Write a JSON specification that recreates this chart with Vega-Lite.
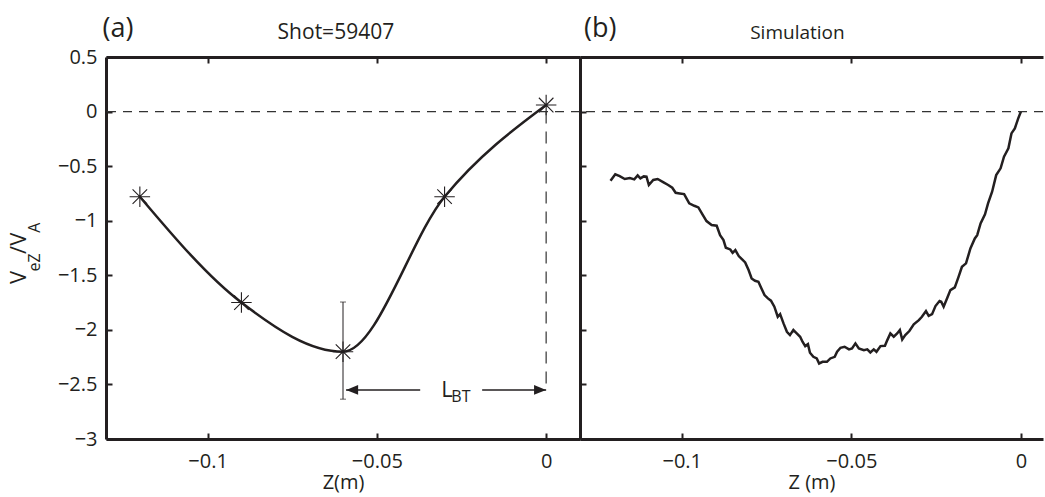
{
  "$schema": "https://vega.github.io/schema/vega-lite/v6.json",
  "background": "white",
  "padding": {"left": 8, "top": 15, "right": 0, "bottom": 4},
  "bounds": "flush",
  "spacing": 0,
  "config": {
    "font": "Open Sans",
    "view": {"stroke": null},
    "axis": {
      "grid": false,
      "domainColor": "#231f20",
      "domainWidth": 3,
      "tickColor": "#231f20",
      "tickWidth": 2,
      "tickSize": -6,
      "labelFont": "Open Sans",
      "labelFontSize": 20,
      "labelColor": "#231f20",
      "labelFlush": false,
      "titleFont": "Open Sans",
      "titleFontSize": 20,
      "titleFontWeight": "normal",
      "titleColor": "#231f20"
    }
  },
  "datasets": {
    "one": [{}],
    "stars": [
      {"z": -0.12, "v": -0.78},
      {"z": -0.09, "v": -1.75},
      {"z": -0.06, "v": -2.2},
      {"z": -0.03, "v": -0.78},
      {"z": 0.0, "v": 0.06}
    ],
    "errcaps": [{"v": -1.745}, {"v": -2.635}],
    "arrows": [{"z": -0.0591, "z2": -0.0372}, {"z": -0.0189, "z2": 0.0}],
    "heads": [{"z": -0.0573, "dir": "left"}, {"z": -0.0018, "dir": "right"}],
    "ybig": [{"t": "V", "v": -1.52}, {"t": "/", "v": -1.267}, {"t": "V", "v": -1.17}],
    "ysmall": [{"t": "eZ", "v": -1.382}, {"t": "A", "v": -1.064}],
    "sim": [
      {"z": -0.1210, "v": -0.634}, {"z": -0.1196, "v": -0.575}, {"z": -0.1183, "v": -0.591},
      {"z": -0.1168, "v": -0.618}, {"z": -0.1153, "v": -0.609}, {"z": -0.1140, "v": -0.621},
      {"z": -0.1130, "v": -0.585}, {"z": -0.1122, "v": -0.612}, {"z": -0.1112, "v": -0.594},
      {"z": -0.1104, "v": -0.597}, {"z": -0.1097, "v": -0.673}, {"z": -0.1084, "v": -0.627},
      {"z": -0.1071, "v": -0.618}, {"z": -0.1055, "v": -0.646}, {"z": -0.1040, "v": -0.673},
      {"z": -0.1028, "v": -0.698}, {"z": -0.1018, "v": -0.744}, {"z": -0.1006, "v": -0.750},
      {"z": -0.0993, "v": -0.756}, {"z": -0.0978, "v": -0.841}, {"z": -0.0963, "v": -0.863},
      {"z": -0.0951, "v": -0.878}, {"z": -0.0939, "v": -0.942}, {"z": -0.0927, "v": -1.003},
      {"z": -0.0912, "v": -1.040}, {"z": -0.0897, "v": -1.046}, {"z": -0.0887, "v": -1.132},
      {"z": -0.0877, "v": -1.177}, {"z": -0.0870, "v": -1.248}, {"z": -0.0857, "v": -1.263},
      {"z": -0.0850, "v": -1.294}, {"z": -0.0842, "v": -1.269}, {"z": -0.0832, "v": -1.324},
      {"z": -0.0822, "v": -1.355}, {"z": -0.0813, "v": -1.382}, {"z": -0.0803, "v": -1.452},
      {"z": -0.0794, "v": -1.529}, {"z": -0.0784, "v": -1.550}, {"z": -0.0774, "v": -1.559},
      {"z": -0.0766, "v": -1.614}, {"z": -0.0756, "v": -1.681}, {"z": -0.0746, "v": -1.712},
      {"z": -0.0737, "v": -1.733}, {"z": -0.0727, "v": -1.788}, {"z": -0.0717, "v": -1.880},
      {"z": -0.0710, "v": -1.856}, {"z": -0.0700, "v": -1.941}, {"z": -0.0690, "v": -2.018},
      {"z": -0.0681, "v": -2.048}, {"z": -0.0671, "v": -2.002}, {"z": -0.0661, "v": -2.033},
      {"z": -0.0651, "v": -2.063}, {"z": -0.0644, "v": -2.109}, {"z": -0.0636, "v": -2.149},
      {"z": -0.0628, "v": -2.131}, {"z": -0.0622, "v": -2.210}, {"z": -0.0612, "v": -2.247},
      {"z": -0.0602, "v": -2.262}, {"z": -0.0595, "v": -2.308}, {"z": -0.0585, "v": -2.293},
      {"z": -0.0572, "v": -2.293}, {"z": -0.0562, "v": -2.262}, {"z": -0.0549, "v": -2.247},
      {"z": -0.0542, "v": -2.201}, {"z": -0.0532, "v": -2.164}, {"z": -0.0520, "v": -2.155},
      {"z": -0.0507, "v": -2.179}, {"z": -0.0498, "v": -2.170}, {"z": -0.0488, "v": -2.124},
      {"z": -0.0478, "v": -2.170}, {"z": -0.0463, "v": -2.186}, {"z": -0.0453, "v": -2.179},
      {"z": -0.0444, "v": -2.207}, {"z": -0.0434, "v": -2.179}, {"z": -0.0426, "v": -2.201},
      {"z": -0.0414, "v": -2.149}, {"z": -0.0401, "v": -2.146}, {"z": -0.0394, "v": -2.094},
      {"z": -0.0385, "v": -2.033}, {"z": -0.0375, "v": -2.063}, {"z": -0.0365, "v": -2.033},
      {"z": -0.0357, "v": -2.002}, {"z": -0.0350, "v": -2.088}, {"z": -0.0341, "v": -2.048},
      {"z": -0.0329, "v": -2.011}, {"z": -0.0316, "v": -1.950}, {"z": -0.0301, "v": -1.911},
      {"z": -0.0292, "v": -1.880}, {"z": -0.0280, "v": -1.828}, {"z": -0.0272, "v": -1.871},
      {"z": -0.0262, "v": -1.856}, {"z": -0.0252, "v": -1.782}, {"z": -0.0240, "v": -1.736},
      {"z": -0.0235, "v": -1.743}, {"z": -0.0228, "v": -1.788}, {"z": -0.0218, "v": -1.712},
      {"z": -0.0208, "v": -1.636}, {"z": -0.0195, "v": -1.611}, {"z": -0.0184, "v": -1.514},
      {"z": -0.0174, "v": -1.422}, {"z": -0.0162, "v": -1.391}, {"z": -0.0149, "v": -1.254},
      {"z": -0.0136, "v": -1.162}, {"z": -0.0129, "v": -1.132}, {"z": -0.0119, "v": -1.025},
      {"z": -0.0106, "v": -0.942}, {"z": -0.0097, "v": -0.841}, {"z": -0.0085, "v": -0.734},
      {"z": -0.0073, "v": -0.582}, {"z": -0.0060, "v": -0.520}, {"z": -0.0050, "v": -0.413},
      {"z": -0.0037, "v": -0.337}, {"z": -0.0028, "v": -0.200}, {"z": -0.0018, "v": -0.154},
      {"z": -0.0008, "v": -0.062}, {"z": 0.0, "v": 0.0}
    ]
  },
  "hconcat": [
    {
      "width": 474,
      "height": 382,
      "resolve": {"axis": {"x": "independent", "y": "independent"}},
      "layer": [
        {
          "data": {"name": "stars"},
          "mark": {"type": "line", "interpolate": "monotone", "color": "#231f20", "strokeWidth": 2.5},
          "encoding": {
            "x": {"field": "z", "type": "quantitative",
                  "scale": {"domain": [-0.13, 0.01], "nice": false, "zero": false},
                  "axis": {"orient": "bottom", "values": [-0.1, -0.05, 0], "format": "~g", "title": "Z(m)", "labelPadding": 18, "titlePadding": 1}},
            "y": {"field": "v", "type": "quantitative",
                  "scale": {"domain": [-3, 0.5], "nice": false, "zero": false},
                  "axis": {"orient": "left", "values": [-3, -2.5, -2, -1.5, -1, -0.5, 0, 0.5], "format": "~g", "title": null, "labelPadding": 15}}
          }
        },
        {
          "data": {"name": "stars"},
          "mark": {"type": "point", "shape": "M-1,0L1,0M0,-1L0,1M-0.71,-0.71L0.71,0.71M-0.71,0.71L0.71,-0.71", "size": 420, "filled": false, "stroke": "#231f20", "strokeWidth": 1.1, "opacity": 1},
          "encoding": {
            "x": {"field": "z", "type": "quantitative",
                  "axis": {"orient": "top", "values": [-0.1, -0.05, 0], "labels": false, "title": null}},
            "y": {"field": "v", "type": "quantitative", "axis": null}
          }
        },
        {
          "data": {"name": "one"},
          "mark": {"type": "rule", "strokeDash": [9, 7], "strokeWidth": 1.2, "color": "#333333"},
          "encoding": {"y": {"datum": 0, "type": "quantitative", "axis": null}}
        },
        {
          "data": {"name": "one"},
          "mark": {"type": "rule", "strokeDash": [12, 8], "strokeWidth": 1.2, "color": "#333333"},
          "encoding": {"x": {"datum": 0, "type": "quantitative", "axis": null}, "y": {"datum": 0, "type": "quantitative", "axis": null}, "y2": {"datum": -2.55}}
        },
        {
          "data": {"name": "one"},
          "mark": {"type": "rule", "strokeWidth": 1, "color": "#231f20"},
          "encoding": {"x": {"datum": -0.06, "type": "quantitative", "axis": null}, "y": {"datum": -1.745, "type": "quantitative", "axis": null}, "y2": {"datum": -2.635}}
        },
        {
          "data": {"name": "errcaps"},
          "mark": {"type": "tick", "orient": "horizontal", "size": 6, "thickness": 1, "color": "#231f20"},
          "encoding": {"x": {"datum": -0.06, "type": "quantitative", "axis": null}, "y": {"field": "v", "type": "quantitative", "axis": null}}
        },
        {
          "data": {"name": "arrows"},
          "mark": {"type": "rule", "strokeWidth": 1.5, "color": "#231f20"},
          "encoding": {"x": {"field": "z", "type": "quantitative", "axis": null}, "x2": {"field": "z2"}, "y": {"datum": -2.55, "type": "quantitative", "axis": null}}
        },
        {
          "data": {"name": "heads"},
          "mark": {"type": "point", "filled": true, "size": 144, "color": "#231f20", "opacity": 1},
          "encoding": {
            "x": {"field": "z", "type": "quantitative", "axis": null},
            "y": {"datum": -2.55, "type": "quantitative", "axis": null},
            "shape": {"field": "dir", "type": "nominal", "legend": null,
                      "scale": {"domain": ["left", "right"], "range": ["M-1,0L1,-0.8L1,0.8Z", "M1,0L-1,-0.8L-1,0.8Z"]}}
          }
        },
        {
          "data": {"name": "one"},
          "mark": {"type": "text", "text": "L", "fontSize": 22, "align": "left", "baseline": "alphabetic", "color": "#231f20"},
          "encoding": {"x": {"datum": -0.031, "type": "quantitative", "axis": null}, "y": {"datum": -2.616, "type": "quantitative", "axis": null}}
        },
        {
          "data": {"name": "one"},
          "mark": {"type": "text", "text": "BT", "fontSize": 16, "align": "left", "baseline": "alphabetic", "color": "#231f20"},
          "encoding": {"x": {"datum": -0.028, "type": "quantitative", "axis": null}, "y": {"datum": -2.662, "type": "quantitative", "axis": null}}
        },
        {
          "data": {"name": "one"},
          "mark": {"type": "text", "text": "(a)", "fontSize": 27, "align": "left", "baseline": "alphabetic", "color": "#231f20"},
          "encoding": {"x": {"datum": -0.131, "type": "quantitative", "axis": null}, "y": {"datum": 0.683, "type": "quantitative", "axis": null}}
        },
        {
          "data": {"name": "one"},
          "mark": {"type": "text", "text": "Shot=59407", "fontSize": 21, "align": "center", "baseline": "alphabetic", "color": "#231f20"},
          "encoding": {"x": {"datum": -0.0621, "type": "quantitative", "axis": null}, "y": {"datum": 0.665, "type": "quantitative", "axis": null}}
        },
        {
          "data": {"name": "ybig"},
          "mark": {"type": "text", "fontSize": 22, "angle": 270, "align": "center", "baseline": "alphabetic", "color": "#231f20"},
          "encoding": {"x": {"datum": -0.1536, "type": "quantitative", "axis": null}, "y": {"field": "v", "type": "quantitative", "axis": null}, "text": {"field": "t"}}
        },
        {
          "data": {"name": "ysmall"},
          "mark": {"type": "text", "fontSize": 16, "angle": 270, "align": "center", "baseline": "alphabetic", "color": "#231f20"},
          "encoding": {"x": {"datum": -0.1495, "type": "quantitative", "axis": null}, "y": {"field": "v", "type": "quantitative", "axis": null}, "text": {"field": "t"}}
        }
      ]
    },
    {
      "width": 463,
      "height": 382,
      "resolve": {"axis": {"x": "independent", "y": "independent"}},
      "layer": [
        {
          "data": {"name": "sim"},
          "mark": {"type": "line", "color": "#231f20", "strokeWidth": 2.5},
          "encoding": {
            "x": {"field": "z", "type": "quantitative",
                  "scale": {"domain": [-0.13, 0.0065], "nice": false, "zero": false},
                  "axis": {"orient": "bottom", "values": [-0.1, -0.05, 0], "format": "~g", "title": "Z (m)", "labelPadding": 18, "titlePadding": 1}},
            "y": {"field": "v", "type": "quantitative",
                  "scale": {"domain": [-3, 0.5], "nice": false, "zero": false},
                  "axis": {"orient": "left", "values": [-3, -2.5, -2, -1.5, -1, -0.5, 0, 0.5], "labels": false, "title": null}}
          }
        },
        {
          "data": {"name": "sim"},
          "mark": {"type": "line", "opacity": 0},
          "encoding": {
            "x": {"field": "z", "type": "quantitative",
                  "axis": {"orient": "top", "values": [-0.1, -0.05, 0], "labels": false, "title": null}},
            "y": {"field": "v", "type": "quantitative", "axis": null}
          }
        },
        {
          "data": {"name": "one"},
          "mark": {"type": "rule", "strokeDash": [9, 7], "strokeWidth": 1.2, "color": "#333333"},
          "encoding": {"y": {"datum": 0, "type": "quantitative", "axis": null}}
        },
        {
          "data": {"name": "one"},
          "mark": {"type": "text", "text": "(b)", "fontSize": 27, "align": "left", "baseline": "alphabetic", "color": "#231f20"},
          "encoding": {"x": {"datum": -0.1288, "type": "quantitative", "axis": null}, "y": {"datum": 0.683, "type": "quantitative", "axis": null}}
        },
        {
          "data": {"name": "one"},
          "mark": {"type": "text", "text": "Simulation", "fontSize": 19, "align": "center", "baseline": "alphabetic", "color": "#231f20"},
          "encoding": {"x": {"datum": -0.0659, "type": "quantitative", "axis": null}, "y": {"datum": 0.665, "type": "quantitative", "axis": null}}
        }
      ]
    }
  ]
}
